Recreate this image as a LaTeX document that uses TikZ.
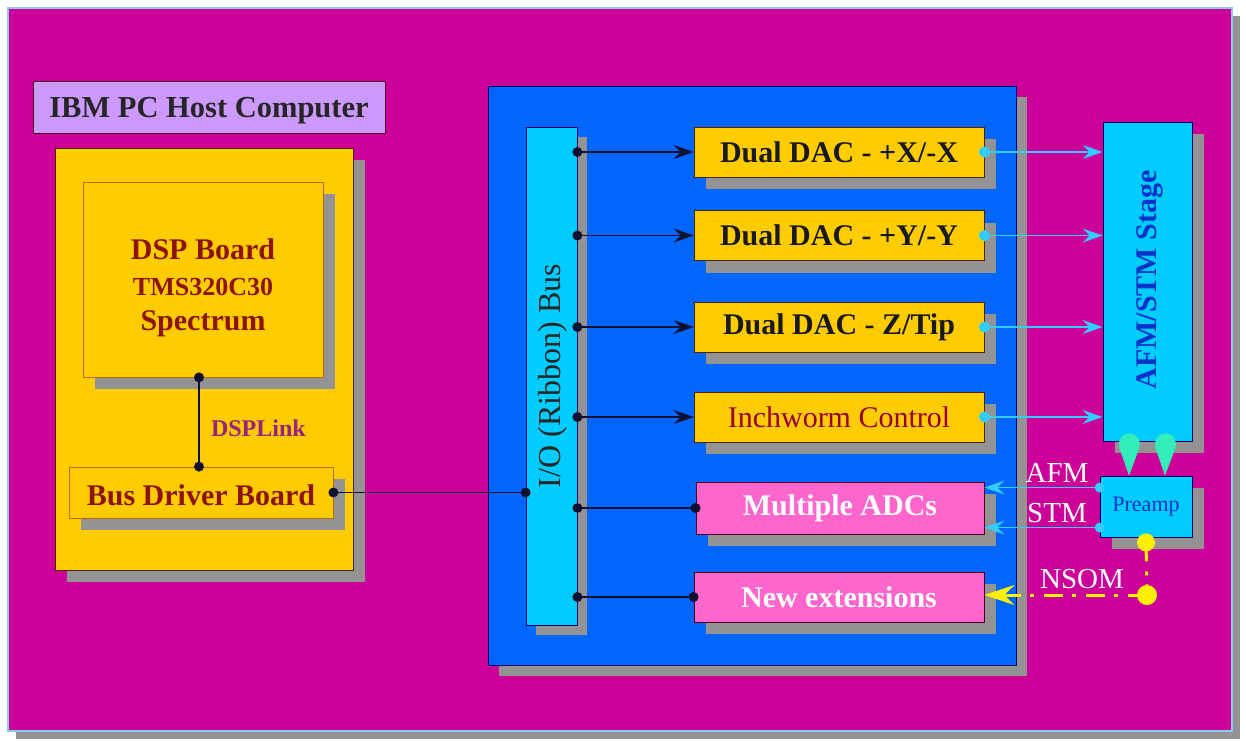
\documentclass[tikz,border=0pt]{standalone}
\usepackage{fontspec}
\setmainfont{Liberation Serif}
\usetikzlibrary{arrows.meta,shadows,calc}

\definecolor{bgmag}{HTML}{CC0099}
\definecolor{framecyan}{HTML}{88CCEE}
\definecolor{boardyel}{HTML}{FFCC00}
\definecolor{panelblue}{HTML}{0066FF}
\definecolor{buscyan}{HTML}{00CCFF}
\definecolor{adcpink}{HTML}{FF66CC}
\definecolor{hostlav}{HTML}{CC99FF}
\definecolor{shadowgray}{HTML}{939393}
\definecolor{darkred}{HTML}{8C1400}
\definecolor{wormred}{HTML}{99002E}
\definecolor{linkpurple}{HTML}{99227A}
\definecolor{signalcyan}{HTML}{33CCFF}
\definecolor{mint}{HTML}{33EEBB}
\definecolor{nsomyel}{HTML}{FFF000}
\definecolor{stageblue}{HTML}{0033CC}
\definecolor{wirenavy}{HTML}{101030}

\tikzset{
  wh/.style 2 args={minimum width=#1pt, minimum height=#2pt},
  sbox/.style={inner sep=0pt, align=center, line width=0.8pt,
    drop shadow={shadow xshift=#1, shadow yshift=-#1, fill=shadowgray, opacity=1}},
  sbox/.default=12pt,
  yelbox/.style={fill=boardyel, draw=black!70!orange},
  pinkbox/.style={fill=adcpink, draw=black!60!purple},
  cyanbox/.style={fill=buscyan, draw=black!60!blue},
  big/.style={font=\fontsize{30pt}{36pt}\selectfont\bfseries},
  plain/.style={font=\fontsize{30pt}{36pt}\selectfont},
  wire/.style={draw=wirenavy, line width=1.4pt},
  busarrow/.style={wire, -{Stealth[length=20pt,width=14pt,inset=7pt]}},
  sig/.style={draw=signalcyan, line width=1.5pt, -{Stealth[length=20pt,width=14pt,inset=7pt]}},
  tear/.style={draw=mint, fill=mint, line width=1pt,
    {Circle[length=21pt,width=21pt]}-{Triangle[length=28pt,width=20pt]}},
  nsom/.style={draw=nsomyel, line width=3pt, dash pattern=on 19pt off 10pt on 4pt off 9pt},
  siglabel/.style={text=white, font=\fontsize{29pt}{34pt}\selectfont, inner sep=3pt},
}

\begin{document}
\begin{tikzpicture}[x=1pt,y=-1pt]
\useasboundingbox (0,0) rectangle (1246,740);
\fill[white] (0,0) rectangle (1246,740);

% backdrop of the whole system
\node[sbox=8pt, fill=bgmag, draw=framecyan, line width=1.4pt, wh={1224}{723}] (frame) at (620,369.5) {};

% ---------------- host computer ----------------
\node[fill=hostlav, draw=black!60!purple, line width=1pt, wh={352}{52}, inner sep=0pt,
      font=\fontsize{30.5pt}{36pt}\selectfont\bfseries, text=black!85] (hostlabel) at (209,107) {\rule{0pt}{27pt}IBM PC Host Computer};
\node[sbox=12pt, yelbox, wh={298}{422}] (host) at (204,359) {};
\node[sbox=12pt, yelbox, draw=orange!80!black, wh={240}{195}, text=darkred,
      font=\fontsize{30pt}{35.5pt}\selectfont\bfseries] (dsp) at (203,279.5)
  {\rule{0pt}{38pt}DSP Board\\
   {\fontsize{26pt}{35.5pt}\selectfont TMS320C30}\\
   Spectrum};
\node[sbox=12pt, yelbox, draw=orange!80!black, wh={264}{51}, big, text=darkred] (drv) at (201,492.5) {\rule{0pt}{27pt}Bus Driver Board};

% DSPLink between the DSP board and the bus driver
\coordinate (linkx) at (199,0);
\draw[wire] (dsp.south -| linkx) -- node[pos=0.57, right=8pt, text=linkpurple, font=\fontsize{24pt}{28pt}\selectfont\bfseries] {DSPLink} (drv.north -| linkx);
\fill[wirenavy] (dsp.south -| linkx) circle (5pt) (drv.north -| linkx) circle (5pt);

% ---------------- interface panel ----------------
\node[sbox=11pt, fill=panelblue, draw=black!60!blue, wh={528}{579}] (panel) at (752,375.5) {};
\node[sbox=10pt, cyanbox, wh={51}{498}] (bus) at (551.5,376) {};
\node[rotate=90, font=\fontsize{32pt}{38pt}\selectfont, text=black!85] (buslabel) at (553,376) {I/O (Ribbon) Bus};

\node[sbox=12pt, yelbox, wh={290}{50}, big, text=black!90] (dacx) at (839,152) {Dual DAC - +X/-X};
\node[sbox=12pt, yelbox, wh={290}{50}, big, text=black!90] (dacy) at (839,235.5) {Dual DAC - +Y/-Y};
\node[sbox=12pt, yelbox, wh={290}{50}, big, text=black!90] (dacz) at (839,327) {Dual DAC - Z/Tip};
\node[sbox=12pt, yelbox, wh={290}{50}, plain, text=wormred] (worm) at (839,417) {Inchworm Control};
\node[sbox=12pt, pinkbox, wh={288}{52}, big, text=white] (adc) at (840,508) {Multiple ADCs};
\node[sbox=12pt, pinkbox, wh={290}{50}, big, text=white] (newext) at (839,597) {New extensions};

% bus driver onto the ribbon bus
\draw[wire] (drv.east) -- (drv.east -| bus.west);
\fill[wirenavy] (drv.east) circle (5pt) (drv.east -| bus.west) circle (5pt);

% ribbon bus out to the cards
\foreach \card in {dacx,dacy,dacz,worm}{
  \draw[busarrow] (\card.west -| bus.east) -- (\card.west);
  \fill[wirenavy] (\card.west -| bus.east) circle (5pt);
}
\foreach \card in {adc,newext}{
  \draw[wire] (\card.west -| bus.east) -- (\card.west);
  \fill[wirenavy] (\card.west -| bus.east) circle (5pt) (\card.west) circle (5pt);
}

% ---------------- microscope ----------------
\node[sbox=12pt, cyanbox, wh={89}{319}] (stage) at (1147.5,281.5) {};
\node[rotate=90, font=\fontsize{30pt}{36pt}\selectfont\bfseries, text=stageblue] (stagelabel) at (1150,280) {AFM/STM Stage};
\node[sbox=12pt, cyanbox, wh={92}{61}, font=\fontsize{22pt}{26pt}\selectfont, text=stageblue] (preamp) at (1146,506.5) {Preamp};

% DAC outputs drive the stage
\foreach \card in {dacx,dacy,dacz,worm}{
  \draw[sig] (\card.east) -- (\card.east -| stage.west);
  \fill[signalcyan] (\card.east) circle (5.5pt);
}

% stage signals into the preamp
\draw[tear] ([xshift=-18pt,yshift=8pt]stage.south) -- ([xshift=-17pt]preamp.north);
\draw[tear] ([xshift=18pt,yshift=8pt]stage.south) -- ([xshift=19pt]preamp.north);

% preamp outputs to the ADCs
\draw[sig] ([yshift=19pt]preamp.west) -- node[pos=0.37, above=1pt, siglabel] {AFM} ([yshift=19pt]preamp.west -| adc.east);
\draw[sig] ([yshift=-21pt]preamp.west) -- node[pos=0.37, above=1pt, siglabel] {STM} ([yshift=-21pt]preamp.west -| adc.east);
\fill[signalcyan] ([yshift=19pt]preamp.west) circle (5pt) ([yshift=-21pt]preamp.west) circle (5pt);

% NSOM signal path into the extension slot
\coordinate (nsomjoint) at (1147,595);
\draw[nsom] ([yshift=-5pt]preamp.south) -- (nsomjoint);
\draw[nsom, -{Stealth[length=30pt,width=20pt,inset=10pt]}] (nsomjoint) -- node[pos=0.4, above=2pt, siglabel] {NSOM} (nsomjoint -| newext.east);
\fill[nsomyel] ([yshift=-5pt]preamp.south) circle (9pt) (nsomjoint) circle (10pt);
\end{tikzpicture}
\end{document}
